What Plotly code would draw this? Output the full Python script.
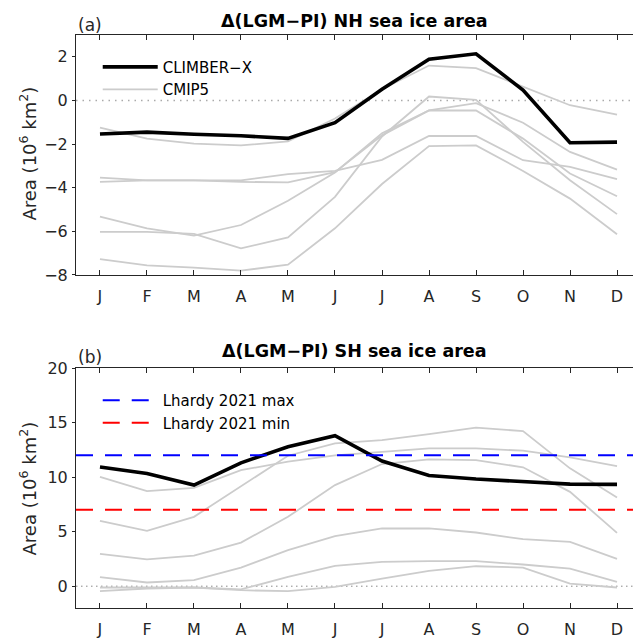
import plotly.graph_objects as go
from plotly.subplots import make_subplots

months = ["J", "F", "M", "A", "M", "J", "J", "A", "S", "O", "N", "D"]
month_idx = list(range(1, 13))

# Panel (a): NH sea ice area anomaly (10^6 km^2)
nh_climber = [-1.54, -1.45, -1.55, -1.62, -1.74, -1.02, 0.51, 1.89, 2.14, 0.48, -1.94, -1.91]
nh_cmip5 = [
    [-1.25, -1.75, -1.98, -2.06, -1.88, -0.83, 0.51, 1.60, 1.48, 0.63, -0.22, -0.65],
    [-3.54, -3.66, -3.66, -3.66, -3.38, -3.23, -2.72, -1.63, -1.63, -2.74, -3.05, -3.61],
    [-3.73, -3.66, -3.66, -3.73, -3.76, -3.29, -1.60, -0.46, -0.12, -1.02, -2.36, -3.17],
    [-5.33, -5.86, -6.20, -5.71, -4.60, -3.30, -1.50, -0.46, -0.46, -1.75, -3.35, -4.39],
    [-6.02, -6.02, -6.12, -6.78, -6.28, -4.42, -1.65, 0.18, 0.03, -1.90, -3.66, -5.21],
    [-7.27, -7.56, -7.66, -7.80, -7.53, -5.86, -3.83, -2.09, -2.06, -3.23, -4.50, -6.13],
]

# Panel (b): SH sea ice area anomaly (10^6 km^2)
sh_climber = [10.92, 10.34, 9.27, 11.31, 12.78, 13.79, 11.47, 10.15, 9.82, 9.63, 9.36, 9.33]
sh_cmip5 = [
    [10.03, 8.72, 9.02, 10.64, 11.41, 11.99, 12.32, 12.63, 12.63, 12.42, 11.80, 11.00],
    [5.99, 5.08, 6.36, 9.20, 11.96, 13.09, 13.39, 13.94, 14.53, 14.22, 10.80, 8.14],
    [2.97, 2.45, 2.81, 4.00, 6.36, 9.27, 11.20, 11.62, 11.56, 10.90, 8.65, 4.89],
    [0.83, 0.34, 0.55, 1.71, 3.30, 4.59, 5.29, 5.29, 4.92, 4.31, 4.07, 2.51],
    [-0.12, -0.12, -0.12, -0.30, 0.86, 1.87, 2.23, 2.29, 2.29, 1.99, 1.62, 0.40],
    [-0.46, -0.21, -0.12, -0.37, -0.46, -0.06, 0.70, 1.41, 1.83, 1.71, 0.24, -0.12],
]
lhardy_max = 12.0
lhardy_min = 7.0
zero_level = 0.0

nh_yticks = [-8, -6, -4, -2, 0, 2]
sh_yticks = [0, 5, 10, 15, 20]

GRAY = "#cccccc"
AX = "#262626"
FONT = "DejaVu Sans"
DASH = "17px,12px"

fig = make_subplots(rows=2, cols=1, vertical_spacing=0.1624)

# NH
for i, s in enumerate(nh_cmip5):
    fig.add_trace(go.Scatter(x=month_idx, y=s, mode="lines",
                             line=dict(color=GRAY, width=1.8),
                             name="CMIP5", showlegend=False, legend="legend"),
                  row=1, col=1)
fig.add_trace(go.Scatter(x=month_idx, y=nh_climber, mode="lines",
                         line=dict(color="black", width=3.6),
                         name="CLIMBER−X", legend="legend", legendrank=1),
              row=1, col=1)
fig.add_trace(go.Scatter(x=[None], y=[None], mode="lines",
                         line=dict(color=GRAY, width=1.8),
                         name="CMIP5", legend="legend", legendrank=2),
              row=1, col=1)

# SH
for i, s in enumerate(sh_cmip5):
    fig.add_trace(go.Scatter(x=month_idx, y=s, mode="lines",
                             line=dict(color=GRAY, width=1.8),
                             showlegend=False),
                  row=2, col=1)
fig.add_trace(go.Scatter(x=month_idx, y=sh_climber, mode="lines",
                         line=dict(color="black", width=3.6),
                         showlegend=False),
              row=2, col=1)
fig.add_trace(go.Scatter(x=[None], y=[None], mode="lines",
                         line=dict(color="#0000ff", width=2, dash=DASH),
                         name="Lhardy 2021 max", legend="legend2", legendrank=1),
              row=2, col=1)
fig.add_trace(go.Scatter(x=[None], y=[None], mode="lines",
                         line=dict(color="#ff0000", width=2, dash=DASH),
                         name="Lhardy 2021 min", legend="legend2", legendrank=2),
              row=2, col=1)

# reference lines
fig.add_hline(y=zero_level, line=dict(color="#aaaaaa", width=1.5, dash="1.5px,5px"),
              row=1, col=1, layer="below")
fig.add_hline(y=zero_level, line=dict(color="#888888", width=1, dash="1.5px,3.5px"),
              row=2, col=1, layer="below")
fig.add_hline(y=lhardy_max, line=dict(color="#0000ff", width=2, dash=DASH),
              row=2, col=1)
fig.add_hline(y=lhardy_min, line=dict(color="#ff0000", width=2, dash=DASH),
              row=2, col=1)

xaxis_common = dict(range=[0.49, 12.34], tickvals=month_idx, ticktext=months,
                    showline=True, linecolor=AX, linewidth=1, mirror="ticks",
                    ticks="inside", ticklen=5, tickcolor=AX, showgrid=False,
                    zeroline=False, tickfont=dict(size=16, color=AX, family=FONT),
                    ticklabelstandoff=7)
fig.update_xaxes(**xaxis_common)
yaxis_common = dict(showline=True, linecolor=AX, linewidth=1, mirror=False,
                    ticks="outside", ticklen=3, tickcolor=AX, showgrid=False,
                    zeroline=False, tickfont=dict(size=16, color=AX, family=FONT),
                    ticklabelstandoff=1)
fig.update_yaxes(range=[-8, 3], tickvals=nh_yticks, row=1, col=1, **yaxis_common)
fig.update_yaxes(range=[-2, 20], tickvals=sh_yticks, row=2, col=1, **yaxis_common)

ann = []
ann.append(dict(text="<b>Δ(LGM−PI) NH sea ice area</b>", x=0.5, y=1.0244,
                xref="paper", yref="paper", xanchor="center", yanchor="middle",
                showarrow=False, font=dict(size=17.5, color="black", family=FONT)))
ann.append(dict(text="<b>Δ(LGM−PI) SH sea ice area</b>", x=0.5, y=0.4485,
                xref="paper", yref="paper", xanchor="center", yanchor="middle",
                showarrow=False, font=dict(size=17.5, color="black", family=FONT)))
ann.append(dict(text="(a)", x=0.0, y=1.0175, xref="paper", yref="paper",
                xanchor="left", yanchor="middle", showarrow=False,
                font=dict(size=17, color=AX, family=FONT)))
ann.append(dict(text="(b)", x=0.0, y=0.4386, xref="paper", yref="paper",
                xanchor="left", yanchor="middle", showarrow=False,
                font=dict(size=17, color=AX, family=FONT)))
for yc in (0.794, 0.2094):
    ann.append(dict(text="Area (10<sup>6</sup> km<sup>2</sup>)", x=-0.0853, y=yc,
                    xref="paper", yref="paper", xanchor="center", yanchor="middle",
                    textangle=-90, showarrow=False,
                    font=dict(size=18, color=AX, family=FONT)))

fig.update_layout(
    width=633, height=638,
    margin=dict(l=76, r=0, t=35, b=30),
    paper_bgcolor="white", plot_bgcolor="white",
    font=dict(family=FONT, color=AX),
    annotations=ann,
    showlegend=True,
    legend=dict(x=0.039, y=0.9727, xanchor="left", yanchor="top",
                bgcolor="rgba(0,0,0,0)", font=dict(size=15, color="black", family=FONT),
                itemwidth=55, tracegroupgap=0),
    legend2=dict(x=0.039, y=0.391, xanchor="left", yanchor="top",
                 bgcolor="rgba(0,0,0,0)", font=dict(size=15, color="black", family=FONT),
                 itemwidth=55, tracegroupgap=0),
)

fig.write_html("out.html", config={"displayModeBar": False},
               post_script="document.body.style.margin='0';document.body.style.overflow='hidden';")
